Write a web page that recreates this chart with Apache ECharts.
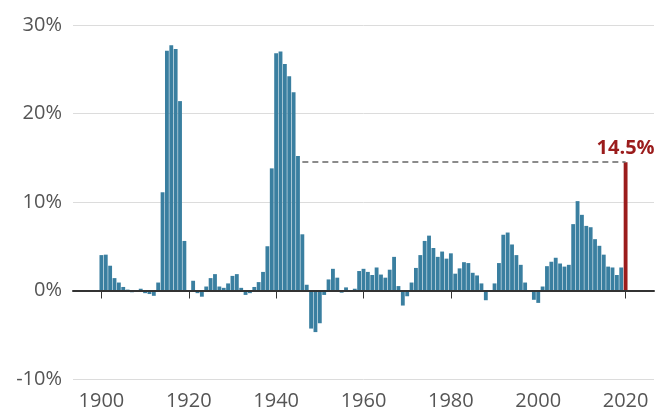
<!DOCTYPE html>
<html>
<head>
<meta charset="utf-8">
<script src="https://cdn.jsdelivr.net/npm/echarts@6/dist/echarts.min.js"></script>
<style>
html,body{margin:0;padding:0;background:#fff;}
#chart{width:658px;height:414px;}
</style>
</head>
<body>
<div id="chart"></div>
<script>
// Axis range (with padding years either side of the data)
const axisStartYear = 1894;
const axisEndYear = 2026;
const dataStartYear = 1900;
// Yearly values (%) 1900..2019
const values = [
  4.0, 4.05, 2.8, 1.4, 0.9, 0.4, 0.1, -0.2, 0.0, 0.2,        // 1900s
  -0.3, -0.4, -0.6, 0.9, 11.1, 27.1, 27.7, 27.3, 21.4, 5.6,  // 1910s
  0.0, 1.1, -0.3, -0.7, 0.45, 1.4, 1.85, 0.45, 0.3, 0.8,     // 1920s
  1.65, 1.85, 0.3, -0.5, -0.3, 0.4, 0.95, 2.1, 5.0, 13.8,    // 1930s
  26.8, 27.0, 25.6, 24.2, 22.4, 15.2, 6.35, 0.65, -4.3, -4.7,// 1940s
  -3.7, -0.5, 1.25, 2.45, 1.45, -0.25, 0.35, 0.05, 0.2, 2.2, // 1950s
  2.45, 2.1, 1.75, 2.6, 1.8, 1.45, 2.35, 3.8, 0.5, -1.7,     // 1960s
  -0.65, 0.9, 2.55, 4.0, 5.6, 6.2, 4.8, 3.8, 4.4, 3.6,       // 1970s
  4.2, 1.9, 2.5, 3.2, 3.1, 2.0, 1.7, 0.8, -1.1, 0.0,         // 1980s
  0.8, 3.1, 6.3, 6.55, 5.2, 4.0, 2.9, 0.9, 0.0, -1.05,       // 1990s
  -1.4, 0.45, 2.75, 3.25, 3.7, 3.05, 2.7, 2.9, 7.5, 10.1,    // 2000s
  8.55, 7.3, 7.15, 5.8, 5.05, 4.05, 2.7, 2.6, 1.75, 2.6      // 2010s
];
const highlightYear = '2020';
const highlightValue = 14.5;
const refLineStartYear = '1946';
const xTickLabels = ['1900','1920','1940','1960','1980','2000','2020'];
const yMin = -10, yMax = 30, yInterval = 10;

const categories = [];
for (let y = axisStartYear; y <= axisEndYear; y++) categories.push(String(y));

const BLUE = '#3a7fa0';
const RED = '#9b1c1c';
const seriesData = categories.map(c => {
  const y = parseInt(c, 10);
  if (c === highlightYear) {
    return {
      value: highlightValue,
      itemStyle: { color: RED },
      label: {
        show: true, position: 'top', distance: 4,
        formatter: p => p.value + '%',
        color: RED, fontWeight: 'bold', fontSize: 20,
        fontFamily: 'Open Sans'
      }
    };
  }
  const i = y - dataStartYear;
  if (i >= 0 && i < values.length) return values[i];
  return '-';
});

const chart = echarts.init(document.getElementById('chart'), null, {renderer: 'canvas'});
chart.setOption({
  animation: false,
  backgroundColor: '#fff',
  grid: { left: 73, right: 4, top: 25, bottom: 35, containLabel: false },
  xAxis: {
    type: 'category',
    data: categories,
    boundaryGap: true,
    axisLine: { show: true, lineStyle: { color: '#333', width: 2 } },
    axisTick: {
      show: true, alignWithLabel: true, length: 8,
      lineStyle: { color: '#333', width: 1 },
      interval: (idx, val) => xTickLabels.includes(val)
    },
    axisLabel: {
      interval: (idx, val) => xTickLabels.includes(val),
      color: '#555', fontSize: 20, fontFamily: 'Open Sans', margin: 12
    },
    splitLine: { show: false }
  },
  yAxis: {
    type: 'value',
    min: yMin, max: yMax, interval: yInterval,
    axisLine: { show: false },
    axisTick: { show: false },
    axisLabel: {
      formatter: '{value}%', color: '#555', fontSize: 20,
      fontFamily: 'Open Sans', margin: 11
    },
    splitLine: { show: true, lineStyle: { color: '#dcdcdc', width: 1 } }
  },
  series: [{
    type: 'bar',
    data: seriesData,
    barCategoryGap: '12%',
    itemStyle: { color: BLUE },
    markLine: {
      silent: true,
      symbol: 'none',
      label: { show: false },
      data: [
        { yAxis: 0, lineStyle: { color: '#333', width: 2, type: 'solid' } },
        [
          { coord: [refLineStartYear, highlightValue], lineStyle: { color: '#666', width: 1.5, type: [6, 4] } },
          { coord: [highlightYear, highlightValue] }
        ]
      ]
    }
  }]
});
</script>
</body>
</html>
